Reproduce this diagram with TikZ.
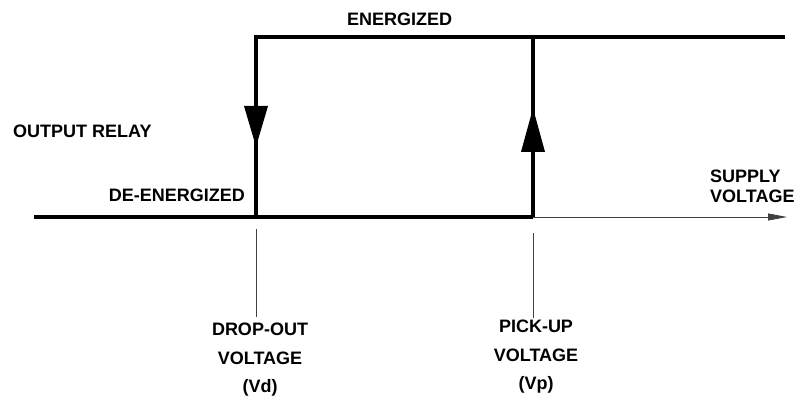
\documentclass[tikz,border=0pt]{standalone}
\usepackage{fontspec}
\setmainfont{Liberation Sans}
\usetikzlibrary{arrows.meta,decorations.markings}

\tikzset{
  relay/.style={line width=3.6pt},
  guide/.style={line width=0.8pt, black!75},
  lbl/.style={font=\fontsize{18}{20}\selectfont\bfseries, inner sep=0pt},
  stacked/.style={lbl, anchor=north, align=center, font=\fontsize{18}{28.5}\selectfont\bfseries},
  midtip/.style 2 args={postaction={decorate},
    decoration={markings, mark=at position #1 with {\arrow{Triangle[length=#2,width=23pt]}}}}
}

\begin{document}
\begin{tikzpicture}[x=1pt, y=-1pt]
    \useasboundingbox (0,0) rectangle (810,398);

    % Corners of the loop
    \coordinate (start) at (34,217);
    \coordinate (vd) at (256,217);
    \coordinate (vdtop) at (256,37);
    \coordinate (vp) at (533,217);
    \coordinate (vptop) at (533,37);
    \coordinate (topend) at (783,37);
    \coordinate (axisend) at (787,217);

    % Relay states
    \draw[relay] (start) -- (vp);
    \draw[relay, midtip={0.611}{41pt}] (vdtop) -- (vd);
    \draw[relay, midtip={0.606}{44pt}] (vp) -- (vptop);
    \draw[relay, line cap=rect] (vdtop) -- (topend);

    % Supply voltage axis
    \draw[guide, -{Triangle[length=19pt,width=7pt]}] (vp) -- (axisend);

    % Guide lines down to the labels
    \coordinate (vdlow) at (256,229);
    \coordinate (vdend) at (256,317);
    \coordinate (vplow) at (533,233);
    \coordinate (vpend) at (533,318);
    \draw[guide] (vdlow) -- (vdend);
    \draw[guide] (vplow) -- (vpend);

    % Labels
    \node[lbl, anchor=west] (energ) at (347,19) {ENERGIZED};
    \node[lbl, anchor=west] (relaylbl) at (13,131) {OUTPUT RELAY};
    \node[lbl, anchor=east] (deenerg) at (245,195) {DE-ENERGIZED};
    \node[lbl, anchor=north west, align=left] (supply) at (710,170)
        {SUPPLY\\VOLTAGE};
    \node[stacked] (droplbl) at (260,323) {DROP-OUT\\VOLTAGE\\(Vd)};
    \node[stacked] (picklbl) at (536,320) {PICK-UP\\VOLTAGE\\(Vp)};

\end{tikzpicture}
\end{document}
